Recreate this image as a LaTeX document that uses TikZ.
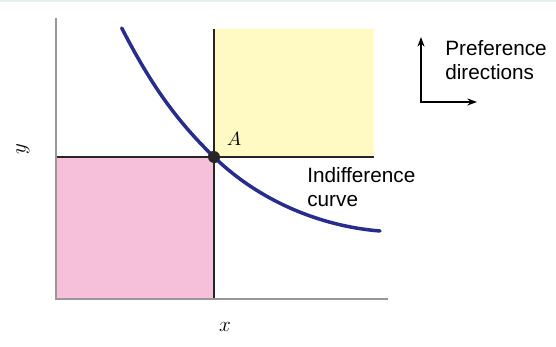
\documentclass[tikz,border=0pt]{standalone}
\usepackage{amsmath}
\usepackage{fontspec}
\setmainfont{Liberation Sans}
\usepackage{tikz}
\usetikzlibrary{arrows.meta,positioning,calc}

\definecolor{bandgreen}{RGB}{226,241,233}
\definecolor{betteryellow}{RGB}{255,249,196}
\definecolor{worsepink}{RGB}{246,192,218}
\definecolor{curveblue}{RGB}{40,44,140}
\definecolor{axisgray}{RGB}{152,152,155}

\begin{document}
\begin{tikzpicture}[x=0.02cm,y=-0.02cm,
  >={Stealth[length=5.5pt,width=4pt]},
  axisline/.style={line width=1.7pt,axisgray},
  guide/.style={line width=1.3pt,black!85},
  indiff/.style={line width=2pt,curveblue,line cap=round},
  dot/.style={circle,fill=black!85,inner sep=0pt,minimum size=6.8pt},
  lbl/.style={font=\fontsize{11.8}{13.6}\selectfont,align=left,inner sep=0pt},
  mathlbl/.style={font=\fontsize{12}{14}\selectfont,inner sep=0pt}]

\useasboundingbox (0,0) rectangle (556,347);

%% Thin band along the top edge
\fill[bandgreen] (0,0) rectangle (556,2.5);

%% Axes corners and point A
\coordinate (O) at (56,299);
\coordinate (xend) at (388,299);
\coordinate (yend) at (56,18);
\coordinate (boxtop) at (374,29);
\node[dot] (A) at (214,157) {};

%% Shaded regions
\fill[betteryellow] (A.center) rectangle (boxtop);
\fill[worsepink] (O) rectangle (A.center);

%% Guide lines through A
\draw[guide] (A.center |- boxtop) -- (A.center |- O);
\draw[guide] (O |- A.center) -- (boxtop |- A.center);

%% Axes
\draw[axisline] (yend) -- (O) -- (xend);

%% Indifference curve
\coordinate (cstart) at (121.7,28);
\coordinate (cend) at (380,231);
\draw[indiff] (cstart) .. controls (149.3,81.4) and (174,118.2) .. (A.center)
  .. controls (259,200.7) and (320,226.2) .. (cend);
\node[dot] at (A) {};
\node[mathlbl,font=\fontsize{11}{13}\selectfont] (Alab) at ($(A)+(20,-18)$) {$A$};

%% Axis labels
\node[mathlbl] (xlab) at (225,327) {$x$};
\node[mathlbl,rotate=90] (ylab) at (23,149) {$y$};

%% Curve label
\node[lbl,anchor=north west] (curvelab) at (307,167.5) {Indifference\\curve};

%% Preference directions
\coordinate (corner) at (421,102);
\coordinate (upTip) at (421,37);
\coordinate (rightTip) at (477,102);
\draw[<->,line width=0.8pt] (upTip) -- (corner) -- (rightTip);
\node[lbl,anchor=north west] (preflab) at (445,40.5) {Preference\\directions};

\end{tikzpicture}
\end{document}
